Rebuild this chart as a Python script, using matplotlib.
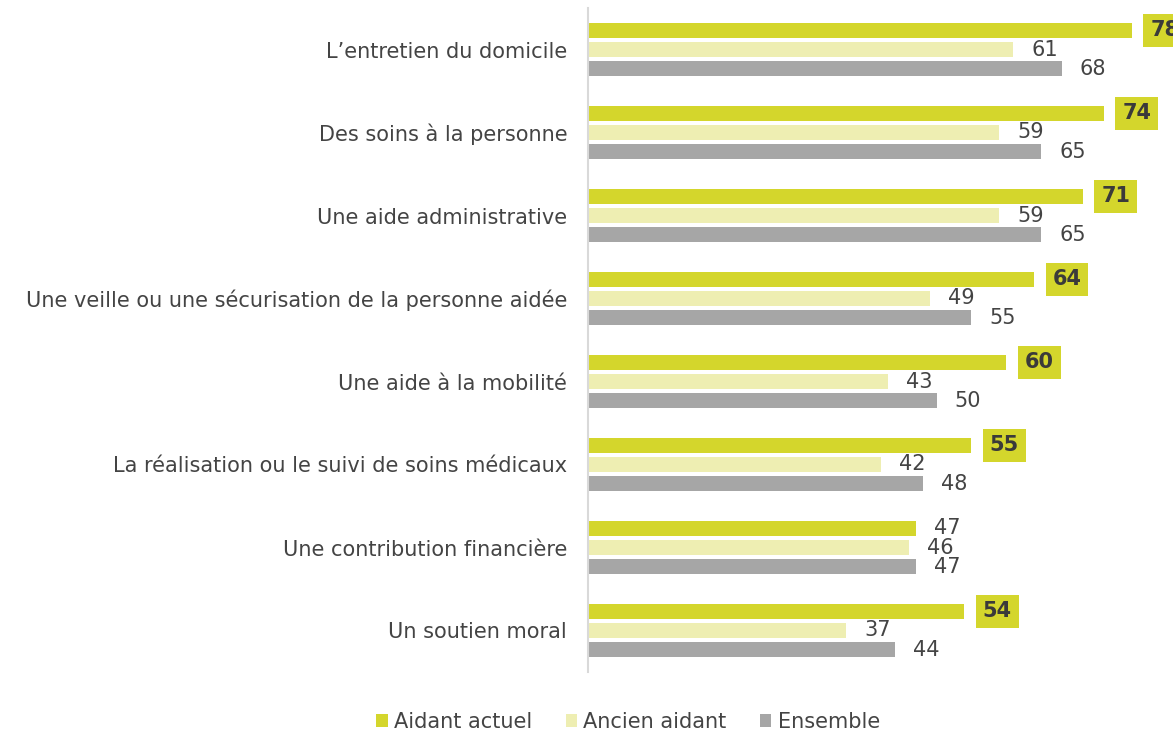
import matplotlib.pyplot as plt
import numpy as np

categories = [
    "L\u2019entretien du domicile",
    "Des soins à la personne",
    "Une aide administrative",
    "Une veille ou une sécurisation de la personne aidée",
    "Une aide à la mobilité",
    "La réalisation ou le suivi de soins médicaux",
    "Une contribution financière",
    "Un soutien moral",
]
aidant_actuel = [78, 74, 71, 64, 60, 55, 47, 54]
ancien_aidant = [61, 59, 59, 49, 43, 42, 46, 37]
ensemble = [68, 65, 65, 55, 50, 48, 47, 44]
# valeurs mises en évidence (encadrées)
highlight = [True, True, True, True, True, True, False, True]

series = [
    ("Aidant actuel", aidant_actuel, "#d4d62c"),
    ("Ancien aidant", ancien_aidant, "#eeeeb2"),
    ("Ensemble", ensemble, "#a6a6a6"),
]

plt.rcParams["font.family"] = "DejaVu Sans"
txt_color = "#444444"

fig = plt.figure(figsize=(11.73, 7.31), dpi=100)
ax = fig.add_axes([588 / 1173, 1 - 672 / 731, 585 / 1173, 664 / 731])

y = np.arange(len(categories))
h = 0.175
offsets = [-0.229, 0, 0.229]

for (name, vals, col), off in zip(series, offsets):
    ax.barh(y + off, vals, height=h, color=col, label=name)
    for i, v in enumerate(vals):
        if name == "Aidant actuel" and highlight[i]:
            ax.annotate(str(v), (v, i + off), xytext=(33, 0), textcoords="offset pixels",
                        ha="center", va="center", fontsize=15, fontweight="bold", color="#3a3a3a",
                        bbox=dict(boxstyle="square,pad=0.33", fc=col, ec="none"),
                        annotation_clip=False)
        else:
            ax.annotate(str(v), (v, i + off), xytext=(18, 0), textcoords="offset pixels",
                        ha="left", va="center", fontsize=15, color=txt_color,
                        annotation_clip=False)

ax.set_xlim(0, 585 / 6.97)
ax.set_ylim(len(categories) - 0.5, -0.5)
ax.set_yticks(y)
ax.set_yticklabels(categories, fontsize=15, color=txt_color)
ax.tick_params(axis="y", length=0, pad=15)
ax.set_xticks([])
for s in ["top", "right", "bottom"]:
    ax.spines[s].set_visible(False)
ax.spines["left"].set_color("#d9d9d9")
ax.spines["left"].set_linewidth(1.5)

ax.legend(loc="center", bbox_to_anchor=(628 / 1173, 1 - 722 / 731), bbox_transform=fig.transFigure,
          ncol=3, frameon=False, fontsize=15, handlelength=0.55, handleheight=0.55,
          handletextpad=0.3, columnspacing=1.6, labelcolor=txt_color)

fig.savefig("out.png", dpi=100)
